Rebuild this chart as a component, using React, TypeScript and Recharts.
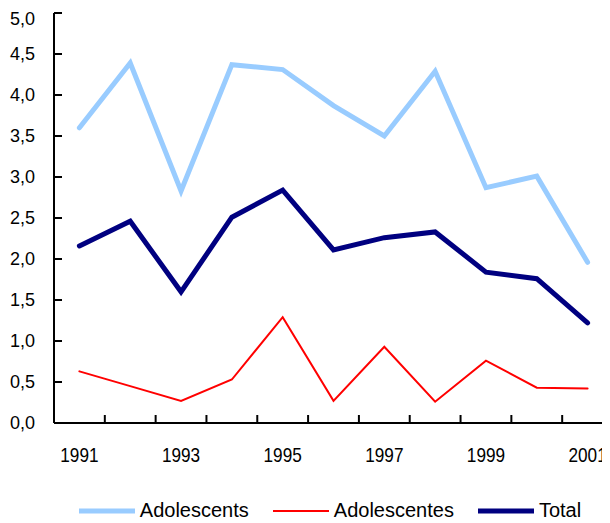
import { LineChart, Line, XAxis, YAxis, Legend } from "recharts";

const years = ["1991", "1992", "1993", "1994", "1995", "1996", "1997", "1998", "1999", "2000", "2001"];
const adolescents = [3.6, 4.39, 2.83, 4.37, 4.31, 3.87, 3.5, 4.29, 2.87, 3.01, 1.96];
const adolescentes = [0.63, 0.45, 0.27, 0.53, 1.29, 0.27, 0.93, 0.26, 0.76, 0.43, 0.42];
const total = [2.16, 2.46, 1.6, 2.51, 2.84, 2.11, 2.26, 2.33, 1.84, 1.76, 1.22];
const yTicks = [0, 0.5, 1, 1.5, 2, 2.5, 3, 3.5, 4, 4.5, 5];

const data = years.map((year, i) => ({
  year,
  adolescents: adolescents[i],
  adolescentes: adolescentes[i],
  total: total[i],
}));

const series = [
  { key: "adolescents", name: "Adolescents", color: "#99CCFF", width: 5 },
  { key: "adolescentes", name: "Adolescentes", color: "#FF0000", width: 2 },
  { key: "total", name: "Total", color: "#000080", width: 5 },
];

const W = 620;
const H = 515;
const margin = { top: 5, right: 15, bottom: 0, left: 0 };
const yAxisWidth = 46;
const band = (W - margin.left - margin.right - yAxisWidth) / years.length;
const labelGap = 25;

const axisStroke = { stroke: "#000", strokeWidth: 2 };

// labels on every other year, tick marks between the categories
function XTick({ x, y, payload, index }: any) {
  const axisY = y - labelGap;
  const mx = x + band / 2;
  return (
    <g>
      {index < years.length - 1 && (
        <line x1={mx} x2={mx} y1={axisY} y2={axisY - 8} stroke="#000" strokeWidth={2} />
      )}
      {index % 2 === 0 && (
        // the original year labels are narrow, squeeze them a little
        <text
          transform={`translate(${x},${y}) scale(0.86,1)`}
          dy="0.71em"
          textAnchor="middle"
          fill="#000"
          fontSize={20}
        >
          {payload.value}
        </text>
      )}
    </g>
  );
}

function LegendContent({ payload }: any) {
  const items = series
    .map((s) => ({ s, p: (payload || []).find((p: any) => p.dataKey === s.key) }))
    .filter((d) => d.p);
  return (
    <div
      style={{
        display: "flex",
        justifyContent: "center",
        alignItems: "center",
        width: W,
        height: 25,
        paddingLeft: 24,
        boxSizing: "border-box",
        fontSize: 20,
        color: "#000",
      }}
    >
      {items.map(({ s, p }, i) => (
        <div key={s.key} style={{ display: "flex", alignItems: "center", marginLeft: i ? 24 : 0 }}>
          <svg width={56} height={10} style={{ marginRight: 5 }}>
            <line x1={0} y1={5} x2={56} y2={5} stroke={p.color} strokeWidth={s.width} />
          </svg>
          <span>{p.value}</span>
        </div>
      ))}
    </div>
  );
}

export default function App() {
  return (
    <div style={{ width: 602, height: 515, overflow: "hidden" }}>
      <LineChart
        width={W}
        height={H}
        data={data}
        margin={margin}
        style={{ fontFamily: "'Liberation Sans', Arial, sans-serif" }}
      >
        <XAxis
          dataKey="year"
          scale="band"
          interval={0}
          height={75}
          axisLine={axisStroke}
          tickLine={false}
          tickSize={0}
          tickMargin={labelGap}
          tick={<XTick />}
        />
        <YAxis
          domain={[0, 5]}
          ticks={yTicks}
          width={yAxisWidth}
          axisLine={axisStroke}
          tickLine={axisStroke}
          tickSize={-8}
          tickMargin={27}
          tickFormatter={(v: number) => v.toFixed(1).replace(".", ",")}
          tick={{ fill: "#000", fontSize: 18 }}
        />
        <Legend verticalAlign="bottom" content={<LegendContent />} wrapperStyle={{ left: 0, width: W }} />
        {series.map((s) => (
          <Line
            key={s.key}
            type="linear"
            dataKey={s.key}
            name={s.name}
            stroke={s.color}
            strokeWidth={s.width}
            strokeLinecap="round"
            dot={false}
            activeDot={false}
            isAnimationActive={false}
          />
        ))}
      </LineChart>
    </div>
  );
}
